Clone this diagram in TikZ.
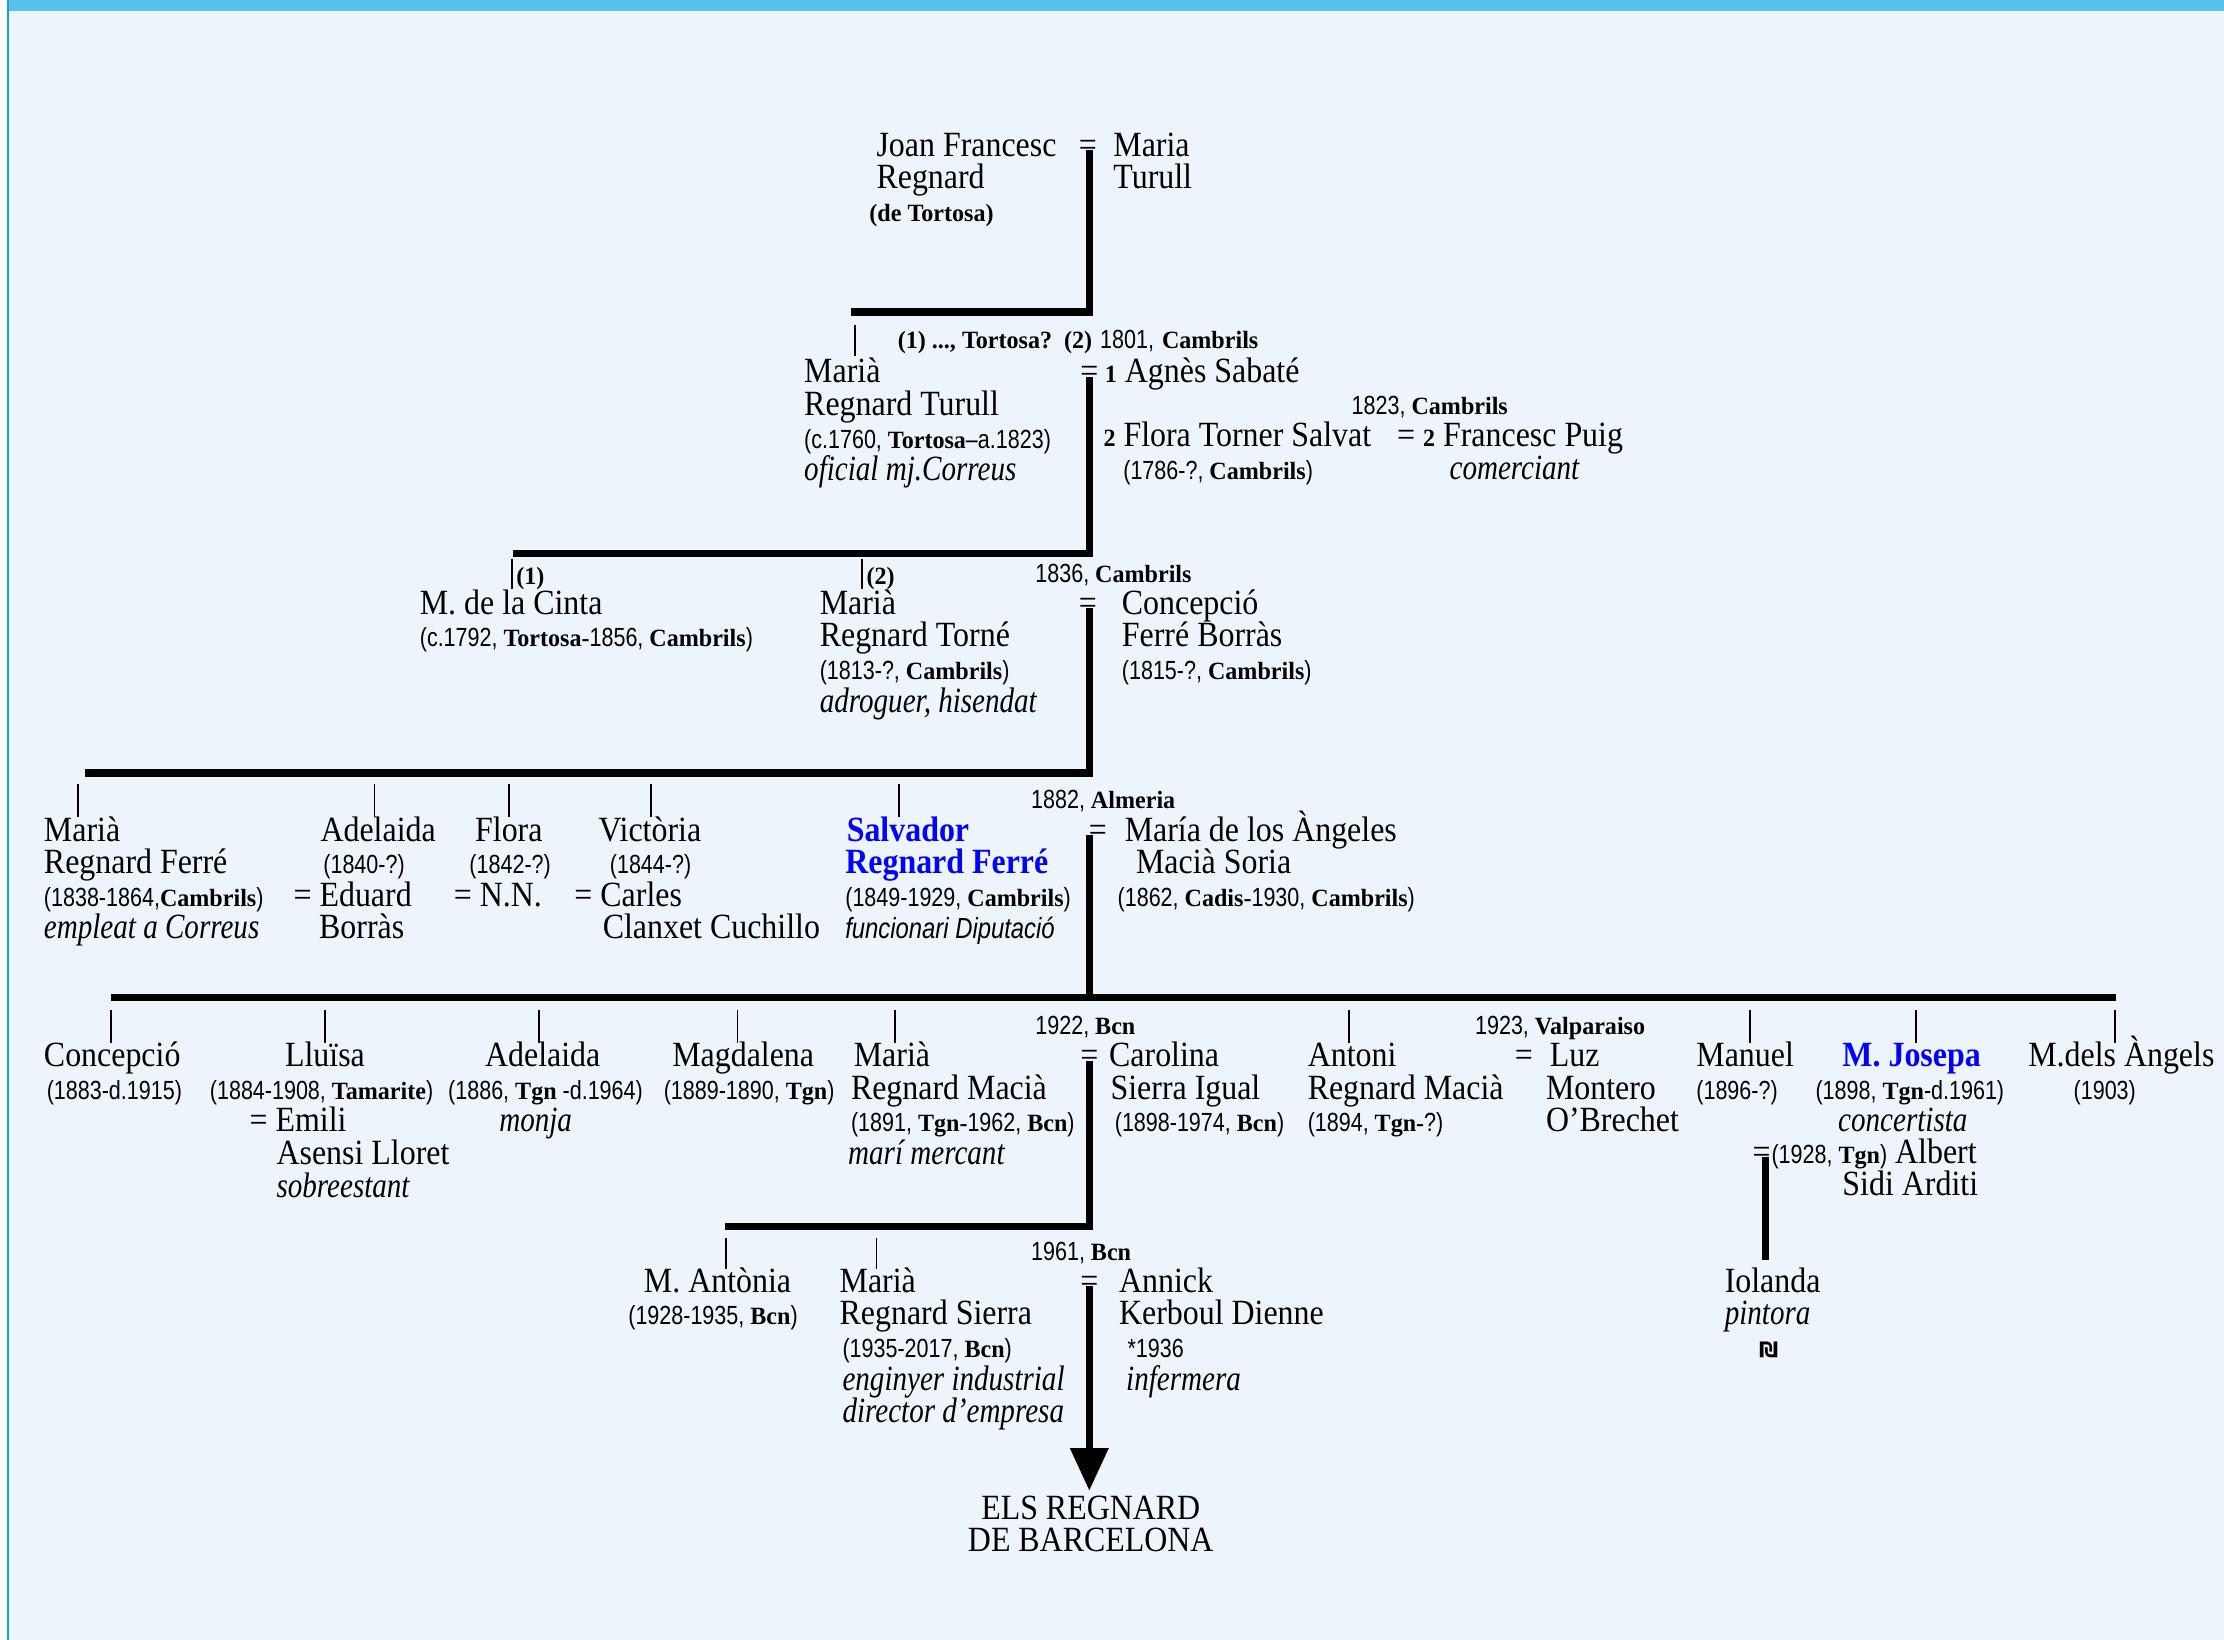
\documentclass[tikz,border=0pt]{standalone}
\usepackage{fontspec}
\setmainfont{Liberation Serif}[FakeStretch=0.9]
\newfontfamily\dsf{Liberation Sans}[FakeStretch=0.82]
\newfontfamily\plf{Liberation Serif}[FakeStretch=0.97]
\newfontfamily\itf{Liberation Serif}[FakeStretch=0.82]
\newfontfamily\symf{DejaVu Sans}
\usetikzlibrary{arrows.meta}
\definecolor{bgc}{RGB}{237,244,252}
\definecolor{barc}{RGB}{88,194,236}
\definecolor{edgec}{RGB}{20,160,220}
\definecolor{hlc}{RGB}{0,0,255}
\newcommand\mf{\fontsize{25}{23}\selectfont}
\newcommand\dt[1]{{\dsf\fontsize{18.5}{23}\selectfont#1}}
\newcommand\pl[1]{{\plf\bfseries\fontsize{17.5}{23}\selectfont#1}}
\newcommand\oc[1]{{\itf\itshape#1}}
\newcommand\oss[1]{{\dsf\itshape\fontsize{20.5}{23}\selectfont#1}}
\newcommand\hl[1]{{\color{hlc}\bfseries#1}}
\newcommand\stk[1]{\vtop{\baselineskip=23pt\lineskiplimit=-1000pt\lineskip=0pt\halign{##\hfil\cr#1\crcr}}}
\newcommand\stc[1]{\vtop{\baselineskip=23pt\lineskiplimit=-1000pt\lineskip=0pt\halign{\hfil##\hfil\cr#1\crcr}}}
\tikzset{
  t/.style={anchor=base west, inner sep=0pt, outer sep=0pt},
  eq/.style={anchor=base, inner sep=0pt, outer sep=0pt},
  barline/.style={line width=5pt, line join=miter, line cap=butt},
  tk/.style={line width=1.3pt},
}
\begin{document}
\begin{tikzpicture}[x=1pt,y=-1pt,font=\mf]
\useasboundingbox (0,0) rectangle (1568,1156);
\fill[white] (0,0) rectangle (1568,1156);
\fill[bgc] (5,0) rectangle (1568,1156);
\fill[barc] (5,0) rectangle (1568,8);
\draw[edgec,line width=1.2pt] (5.6,0) -- (5.6,1156);

% ---------- generation 0
\node[t] (joan) at (618,110) {\stk{Joan Francesc\cr Regnard\cr\kern-5pt\pl{(de Tortosa)}}};
\node[eq] (e0) at (767,110) {=};
\node[t] (maria) at (785,110) {\stk{Maria\cr Turull}};
\coordinate (v0t) at (768,106);
\coordinate (v0b) at (768,220);
\coordinate (h0l) at (600,220);
\draw[barline] (v0t) -- (v0b) -- (h0l);

% ---------- generation 1
\draw[tk] (603,229) -- (603,251);
\node[t] (note1) at (633,246) {\pl{(1) ..., Tortosa?\ \ (2)} \dt{1801,} \pl{Cambrils}};
\node[t] (m1) at (567,270) {\stk{Marià\cr Regnard Turull\cr\dt{(c.1760, }\pl{Tortosa}\dt{–a.1823)}\cr\oc{oficial mj.Correus}}};
\node[eq] (e1) at (768,270) {=};
\node[t] (agnes) at (779,270) {\pl{1} Agnès Sabaté};
\node[t] (y1823) at (953,292) {\dt{1823, }\pl{Cambrils}};
\node[t] (flora1) at (778,315) {\stk{\pl{2} Flora Torner Salvat\cr\kern14pt\dt{(1786-?, }\pl{Cambrils}\dt{)}}};
\node[t] (puig) at (985,315) {\stk{= \pl{2} Francesc Puig\cr\kern37pt\oc{comerciant}}};
\coordinate (v1t) at (768,266);
\coordinate (v1b) at (768,390);
\coordinate (h1l) at (362,390);
\draw[barline] (v1t) -- (v1b) -- (h1l);

% ---------- generation 2
\draw[tk] (361,394) -- (361,415);
\draw[tk] (608,394) -- (608,415);
\node[t] (n1) at (364,412) {\pl{(1)}};
\node[t] (n2) at (611,412) {\pl{(2)}};
\node[t] (y1836) at (730,411) {\dt{1836, }\pl{Cambrils}};
\node[t] (cinta) at (296,433) {\stk{M. de la Cinta\cr\dt{(c.1792, }\pl{Tortosa-}\dt{1856, }\pl{Cambrils}\dt{)}}};
\node[t] (m2) at (578,433) {\stk{Marià\cr Regnard Torné\cr\dt{(1813-?, }\pl{Cambrils}\dt{)}\cr\oc{adroguer, hisendat}}};
\node[eq] (e2) at (767,433) {=};
\node[t] (conc) at (791,433) {\stk{Concepció\cr Ferré Borràs\cr\dt{(1815-?, }\pl{Cambrils}\dt{)}}};
\coordinate (v2t) at (768,429);
\coordinate (v2b) at (768,545);
\coordinate (h2l) at (60,545);
\draw[barline] (v2t) -- (v2b) -- (h2l);

% ---------- generation 3
\foreach \xx in {55,264,359,459,634} \draw[tk] (\xx,553) -- (\xx,576);
\node[t] (y1882) at (727,570) {\dt{1882, }\pl{Almeria}};
\node[t] (m3) at (31,593) {\stk{Marià\cr Regnard Ferré\cr\dt{(1838-1864,}\pl{Cambrils}\dt{)}\cr\oc{empleat a Correus}}};
\node[t] (adel3) at (207,593) {\stk{\kern19pt Adelaida\cr\kern21pt\dt{(1840-?)}\cr= Eduard\cr\kern18pt Borràs}};
\node[t] (flora3) at (320,593) {\stk{\kern15pt Flora\cr\kern11pt\dt{(1842-?)}\cr= N.N.}};
\node[t] (vict) at (405,593) {\stk{\kern17pt Victòria\cr\kern25pt\dt{(1844-?)}\cr= Carles\cr\kern20pt Clanxet Cuchillo}};
\node[t] (salv) at (596,593) {\stk{\kern1pt\hl{Salvador}\cr\hl{Regnard Ferré}\cr\dt{(1849-1929, }\pl{Cambrils}\dt{)}\cr\oss{funcionari Diputació}}};
\node[eq] (e3) at (774,593) {=};
\node[t] (angeles) at (793,593) {\stk{María de los Àngeles\cr\kern8pt Macià Soria\cr\kern-5pt\dt{(1862, }\pl{Cadis-}\dt{1930, }\pl{Cambrils}\dt{)}}};
\coordinate (v3t) at (768,589);
\coordinate (v3b) at (768,703);
\coordinate (h3l) at (78,703);
\coordinate (h3r) at (1492,703);
\draw[barline] (v3t) -- (v3b);
\draw[barline] (h3l) -- (h3r);

% ---------- generation 4
\foreach \xx in {78,229,380,520,631,951,1234,1351,1491} \draw[tk] (\xx,712) -- (\xx,735);
\node[t] (y1922) at (730,729) {\dt{1922, }\pl{Bcn}};
\node[t] (y1923) at (1040,729) {\dt{1923, }\pl{Valparaiso}};
\node[t] (conc4) at (31,752) {\stk{Concepció\cr\kern2pt\dt{(1883-d.1915)}}};
\node[t] (lluisa) at (148,752) {\stk{\kern53pt Lluïsa\cr\dt{(1884-1908, }\pl{Tamarite}\dt{)}\cr\kern28pt= Emili\cr\kern47pt Asensi Lloret\cr\kern47pt\oc{sobreestant}}};
\node[t] (adel4) at (316,752) {\stk{\kern26pt Adelaida\cr\dt{(1886, }\pl{Tgn}\dt{ -d.1964)}\cr\kern36pt\oc{monja}}};
\node[t] (magd) at (468,752) {\stk{\kern6pt Magdalena\cr\dt{(1889-1890, }\pl{Tgn}\dt{)}}};
\node[t] (m4) at (600,752) {\stk{\kern2pt Marià\cr Regnard Macià\cr\dt{(1891, }\pl{Tgn-}\dt{1962, }\pl{Bcn}\dt{)}\cr\kern-2pt\oc{marí mercant}}};
\node[eq] (e4) at (768,752) {=};
\node[t] (carol) at (782,752) {\stk{Carolina\cr\kern1pt Sierra Igual\cr\kern4pt\dt{(1898-1974, }\pl{Bcn}\dt{)}}};
\node[t] (antoni) at (922,752) {\stk{Antoni\cr Regnard Macià\cr\dt{(1894, }\pl{Tgn-}\dt{?)}}};
\node[t] (luz) at (1068,752) {\stk{=\kern12pt Luz\cr\kern22pt Montero\cr\kern22pt O’Brechet}};
\node[t] (manuel) at (1196,752) {\stk{Manuel\cr\dt{(1896-?)}}};
\node[t] (josepa) at (1280,752) {\stk{\kern19pt\hl{M. Josepa}\cr\dt{(1898, }\pl{Tgn}\dt{-d.1961)}\cr\kern16pt\oc{concertista}}};
\node[eq] (e5) at (1242,820) {=};
\node[t] (albert) at (1249,820) {\stk{\dt{(1928, }\pl{Tgn}\dt{)} Albert\cr\kern50pt Sidi Arditi}};
\node[t] (angels) at (1430,752) {\stk{M.dels Àngels\cr\kern32pt\dt{(1903)}}};
\coordinate (v4t) at (768,748);
\coordinate (v4b) at (768,865);
\coordinate (h4l) at (511,865);
\draw[barline] (v4t) -- (v4b) -- (h4l);
\coordinate (vjt) at (1245,816);
\coordinate (vjb) at (1245,888);
\draw[barline] (vjt) -- (vjb);

% ---------- generation 5
\foreach \xx in {512,618} \draw[tk] (\xx,873) -- (\xx,895);
\node[t] (y1961) at (727,889) {\dt{1961, }\pl{Bcn}};
\node[t] (anton) at (443,911) {\stk{\kern11pt M. Antònia\cr\dt{(1928-1935, }\pl{Bcn}\dt{)}}};
\node[t] (m5) at (592,911) {\stk{Marià\cr Regnard Sierra\cr\kern2pt\dt{(1935-2017, }\pl{Bcn}\dt{)}\cr\kern2pt\oc{enginyer industrial}\cr\kern2pt\oc{director d’empresa}}};
\node[eq] (e6) at (768,911) {=};
\node[t] (annick) at (789,911) {\stk{Annick\cr Kerboul Dienne\cr\kern6pt\dt{*1936}\cr\kern5pt\oc{infermera}}};
\node[t] (iol) at (1216,911) {\stk{Iolanda\cr\oc{pintora}}};
\node[eq] (shek) at (1247,957) {\symf\bfseries\fontsize{15}{17}\selectfont ₪};
\node[eq] (els) at (769,1071) {\stc{ELS REGNARD\cr DE BARCELONA}};
\coordinate (v5t) at (768,907);
\coordinate (v5b) at (768,1051);
\draw[barline,-{Triangle[length=30pt,width=26pt]}] (v5t) -- (v5b);
\end{tikzpicture}
\end{document}
